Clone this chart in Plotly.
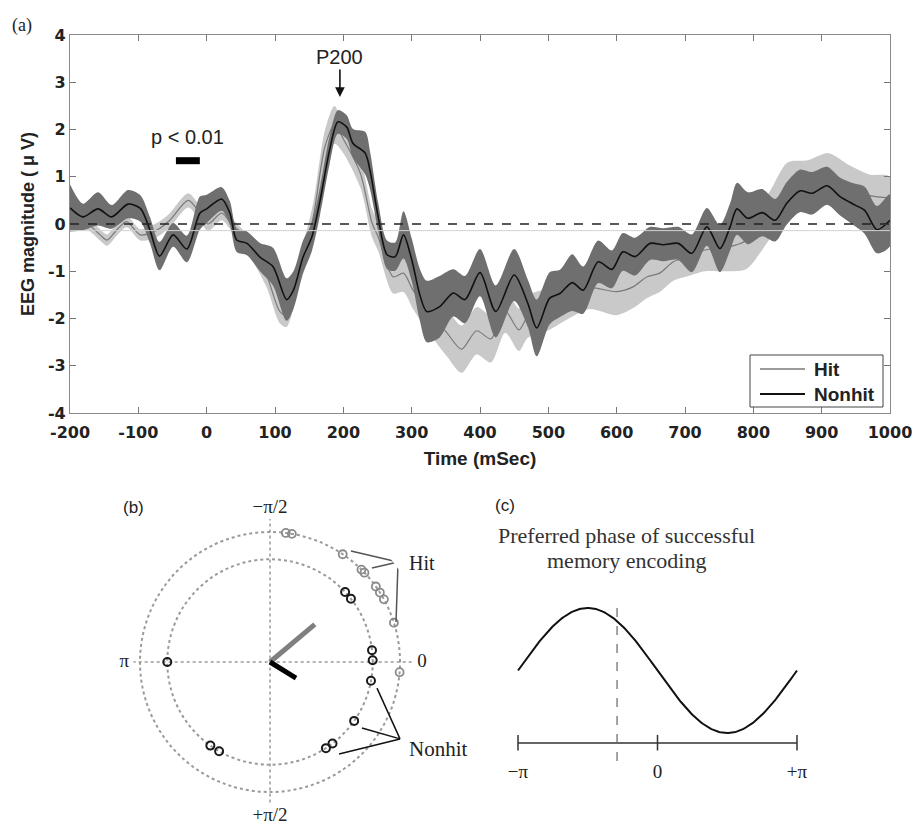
import numpy as np
import plotly.graph_objects as go

W, H = 917, 824

# ---------------- Panel (a) data ----------------
nonhit_t = [-200, -181, -159, -139, -115, -97, -83, -69, -49, -29, -10, 0, 22, 34, 44, 59, 78, 97,
            117, 127, 141, 154, 166, 180, 192, 205, 214, 232, 239, 251, 264, 276, 288, 300, 312,
            322, 341, 361, 378, 400, 423, 450, 470, 483, 502, 517, 535, 551, 573, 593, 609, 627,
            649, 668, 690, 710, 732, 751, 766, 776, 792, 813, 832, 849, 868, 886, 908, 927, 949,
            963, 981, 1000]
nonhit_mean = [0.34, 0.15, 0.32, 0.15, 0.42, 0.33, -0.13, -0.68, -0.23, -0.53, 0.23, 0.32, 0.53,
               0.23, -0.34, -0.41, -0.70, -0.90, -1.60, -1.40, -0.70, -0.27, 0.50, 1.57, 2.16,
               2.05, 1.71, 1.50, 1.14, 0.15, -0.65, -0.69, -0.23, -0.75, -1.50, -1.85, -1.75,
               -1.46, -1.60, -1.03, -1.85, -1.08, -1.68, -2.20, -1.57, -1.47, -1.24, -1.40, -0.80,
               -0.96, -0.59, -0.69, -0.41, -0.44, -0.41, -0.62, -0.06, -0.52, -0.06, 0.32, 0.12,
               0.24, 0.08, 0.44, 0.70, 0.65, 0.81, 0.58, 0.40, 0.29, -0.12, 0.08]
nonhit_sem = [0.50, 0.28, 0.35, 0.25, 0.30, 0.28, 0.28, 0.30, 0.25, 0.28, 0.35, 0.30, 0.25, 0.25,
              0.25, 0.25, 0.30, 0.40, 0.45, 0.40, 0.35, 0.30, 0.30, 0.30, 0.25, 0.25, 0.30, 0.45,
              0.40, 0.30, 0.30, 0.30, 0.50, 0.45, 0.55, 0.65, 0.65, 0.50, 0.50, 0.50, 0.55, 0.55,
              0.50, 0.60, 0.55, 0.50, 0.60, 0.50, 0.45, 0.40, 0.40, 0.40, 0.35, 0.35, 0.35, 0.40,
              0.40, 0.50, 0.50, 0.55, 0.55, 0.50, 0.45, 0.45, 0.45, 0.45, 0.40, 0.40, 0.45, 0.50,
              0.50, 0.55]

hit_t = [-200, -175, -156, -146, -130, -117, -97, -73, -54, -27, -10, 2, 22, 39, 63, 88, 107, 117,
         137, 156, 173, 187, 200, 225, 242, 251, 273, 288, 302, 327, 352, 373, 395, 416, 437, 457,
         470, 500, 530, 560, 600, 624, 644, 663, 683, 705, 729, 760, 790, 820, 850, 880, 910, 940,
         970, 1000]
hit_mean = [-0.03, 0.00, -0.23, -0.34, -0.10, 0.05, -0.23, -0.13, 0.08, 0.50, 0.23, 0.00, 0.23,
            -0.06, -0.48, -1.10, -1.85, -1.93, -0.90, 0.15, 1.63, 2.10, 1.80, 1.07, 0.02, -0.27,
            -1.12, -1.04, -1.40, -1.89, -2.31, -2.65, -2.26, -2.43, -1.85, -2.24, -1.96, -1.80,
            -1.55, -1.35, -1.43, -1.33, -1.12, -1.04, -0.80, -0.70, -0.55, -0.50, -0.35, 0.10,
            0.75, 0.85, 0.95, 0.75, 0.60, 0.55]
hit_sem = [0.12, 0.12, 0.12, 0.12, 0.12, 0.12, 0.12, 0.15, 0.15, 0.15, 0.15, 0.15, 0.15, 0.15,
           0.20, 0.25, 0.25, 0.25, 0.25, 0.30, 0.35, 0.40, 0.30, 0.30, 0.30, 0.30, 0.35, 0.40,
           0.40, 0.45, 0.50, 0.50, 0.50, 0.50, 0.45, 0.45, 0.45, 0.45, 0.45, 0.45, 0.50, 0.45,
           0.45, 0.40, 0.40, 0.40, 0.45, 0.50, 0.60, 0.50, 0.55, 0.50, 0.55, 0.50, 0.45, 0.45]

sig_window = [-45, -10]      # p < 0.01 interval (ms)
sig_level = 1.34
p200_time, p200_tip = 195, 2.69
x_ticks = list(range(-200, 1001, 100))
x_ticktext = [str(v) for v in x_ticks]
y_ticks = list(range(-4, 5))
y_ticktext = [str(v) for v in y_ticks]
legend_names = ["Hit", "Nonhit"]

# ---------------- Panel (b) data ----------------
hit_phase_deg = [277, 279.7, 304, 314.7, 316.6, 324.5, 327.7, 331.2, 342.4, 4.5]
nonhit_phase_deg = [317, 322, 353.4, 359, 10.5, 35, 52.5, 57, 119.7, 125.5, 180]
hit_ring, nonhit_ring = 1.0, 0.79
hit_mean_vec = (0.45, 320)      # (length, angle deg)
nonhit_mean_vec = (0.235, 31.6)
hit_leader = [(1.057, 306.1), (1.067, 317.3), (1.017, 342.4)]
hit_vertex = (1.25, 322)
nonhit_leader = [(0.847, 13.7), (0.871, 35.7), (0.885, 53.1)]
nonhit_vertex = (1.162, 30.6)
polar_labels = ["0", "+π/2", "π", "−π/2"]
polar_label_deg = [0, 90, 180, 270]
polar_label_r = [1.17, 1.19, 1.12, 1.18]
cross_r = [1.09, 1.08, 1.05, 1.10]   # reach of dotted cross at 0, 90, 180, 270 deg

# ---------------- Panel (c) data ----------------
wave_phase = np.linspace(-np.pi, np.pi, 241)
wave_value = -np.sin(wave_phase)
preferred_phase = -0.29 * np.pi
c_ticks = [-np.pi, 0, np.pi]
c_ticktext = ["−π", "0", "+π"]

# ---------------- helpers ----------------
def px_x(p):
    return p / W

def px_y(p):
    return 1 - p / H

fig = go.Figure()

TICKFONT = dict(family="DejaVu Sans", size=16, color="#222", weight="bold")
SERIF = "Liberation Serif"
HIT_LINE = "#7a7a7a"
NONHIT_LINE = "#111"

def band(t, m, s, color, name):
    up = [a + b for a, b in zip(m, s)]
    lo = [a - b for a, b in zip(m, s)]
    fig.add_trace(go.Scatter(x=list(t) + list(t)[::-1], y=up + lo[::-1], fill="toself",
                             fillcolor=color, line=dict(width=0, shape="spline", smoothing=0.8),
                             mode="lines", hoverinfo="skip", showlegend=False, name=name,
                             xaxis="x", yaxis="y"))

band(hit_t, hit_mean, hit_sem, "#c9c9c9", "Hit SEM")
fig.add_trace(go.Scatter(x=hit_t, y=hit_mean, mode="lines", name=legend_names[0],
                         line=dict(color=HIT_LINE, width=1.2, shape="spline", smoothing=0.8),
                         showlegend=False, xaxis="x", yaxis="y"))
band(nonhit_t, nonhit_mean, nonhit_sem, "#6f6f6f", "Nonhit SEM")
fig.add_trace(go.Scatter(x=nonhit_t, y=nonhit_mean, mode="lines", name=legend_names[1],
                         line=dict(color=NONHIT_LINE, width=1.6, shape="spline", smoothing=0.8),
                         showlegend=False, xaxis="x", yaxis="y"))
# significance bar
fig.add_trace(go.Scatter(x=sig_window, y=[sig_level, sig_level], mode="lines",
                         line=dict(color="black", width=7), showlegend=False, hoverinfo="skip",
                         xaxis="x", yaxis="y"))

# ---------------- Panel (b) traces ----------------
dot_gray = "#9a9a9a"
fig.add_trace(go.Scatterpolar(r=[cross_r[0], cross_r[2], None, cross_r[1], cross_r[3]],
                              theta=[0, 180, None, 90, 270],
                              mode="lines", line=dict(color=dot_gray, width=1.5, dash="dot"),
                              showlegend=False, hoverinfo="skip", subplot="polar"))
fig.add_trace(go.Scatterpolar(r=[0, hit_mean_vec[0]], theta=[hit_mean_vec[1]] * 2, mode="lines",
                              line=dict(color="#7f7f7f", width=5), showlegend=False,
                              subplot="polar"))
fig.add_trace(go.Scatterpolar(r=[0, nonhit_mean_vec[0]], theta=[nonhit_mean_vec[1]] * 2,
                              mode="lines", line=dict(color="#000", width=5), showlegend=False,
                              subplot="polar"))
fig.add_trace(go.Scatterpolar(r=[hit_ring] * len(hit_phase_deg), theta=hit_phase_deg,
                              mode="markers", marker=dict(symbol="circle-open", size=8,
                              color="#8a8a8a", line=dict(width=1.8)), showlegend=False,
                              subplot="polar"))
fig.add_trace(go.Scatterpolar(r=[nonhit_ring] * len(nonhit_phase_deg), theta=nonhit_phase_deg,
                              mode="markers", marker=dict(symbol="circle-open", size=8,
                              color="#1a1a1a", line=dict(width=2)), showlegend=False,
                              subplot="polar"))

def leaders(ends, vertex, color):
    rr, tt = [], []
    for r, t in ends:
        rr += [r, vertex[0], None]
        tt += [t, vertex[1], None]
    fig.add_trace(go.Scatterpolar(r=rr, theta=tt, mode="lines", line=dict(color=color, width=1.5),
                                  showlegend=False, hoverinfo="skip", subplot="polar",
                                  cliponaxis=False))

leaders(hit_leader, hit_vertex, "#555")
leaders(nonhit_leader, nonhit_vertex, "#111")
fig.add_trace(go.Scatterpolar(r=polar_label_r, theta=polar_label_deg, mode="text",
                              text=polar_labels, textposition="middle center",
                              textfont=dict(family=SERIF, size=19, color="#222"),
                              showlegend=False, hoverinfo="skip", subplot="polar",
                              cliponaxis=False))

# ---------------- Panel (c) traces ----------------
axis_level = -1.16
fig.add_trace(go.Scatter(x=wave_phase, y=wave_value, mode="lines",
                         line=dict(color="#111", width=2), showlegend=False,
                         xaxis="x3", yaxis="y3", cliponaxis=False))
fig.add_trace(go.Scatter(x=[c_ticks[0], c_ticks[-1]], y=[axis_level, axis_level], mode="lines",
                         line=dict(color="#333", width=1.5), showlegend=False,
                         xaxis="x3", yaxis="y3", cliponaxis=False))
tx, ty = [], []
for v in c_ticks:
    tx += [v, v, None]
    ty += [axis_level + 0.13, axis_level - 0.12, None]
fig.add_trace(go.Scatter(x=tx, y=ty, mode="lines", line=dict(color="#333", width=1.5),
                         showlegend=False, xaxis="x3", yaxis="y3", cliponaxis=False))
fig.add_trace(go.Scatter(x=[preferred_phase, preferred_phase], y=[1.0, -1.52], mode="lines",
                         line=dict(color="#666", width=1.2, dash="dash"), showlegend=False,
                         xaxis="x3", yaxis="y3"))
fig.add_trace(go.Scatter(x=c_ticks, y=[axis_level - 0.48] * 3, mode="text", text=c_ticktext,
                         textfont=dict(family=SERIF, size=19, color="#222"),
                         showlegend=False, xaxis="x3", yaxis="y3", cliponaxis=False))

# ---------------- layout ----------------
c_px_per_rad = 139.5 / np.pi
c_half = (815 - 657.5) / c_px_per_rad

fig.update_layout(
    width=W, height=H, autosize=False,
    margin=dict(l=0, r=0, t=0, b=0, autoexpand=False),
    paper_bgcolor="white", plot_bgcolor="white",
    font=dict(family="Liberation Sans", color="#222"),
    xaxis=dict(domain=[px_x(70), px_x(890)], range=[-200, 1000], tickvals=x_ticks,
               ticktext=x_ticktext, automargin=False, ticklabelstandoff=5,
               ticks="inside", ticklen=6, tickcolor="#777", mirror="ticks", showline=True,
               linecolor="#8a8a8a", linewidth=1.2, showgrid=False, zeroline=False,
               tickfont=TICKFONT, anchor="y",
               title=dict(text="Time (mSec)", standoff=10,
                          font=dict(family="Liberation Sans", size=19, weight="bold",
                                    color="#222"))),
    yaxis=dict(domain=[px_y(413), px_y(35)], range=[-4, 4], tickvals=y_ticks,
               ticktext=y_ticktext, automargin=False,
               ticks="inside", ticklen=6, tickcolor="#777", mirror="ticks", showline=True,
               linecolor="#8a8a8a", linewidth=1.2, showgrid=False, zeroline=False,
               tickfont=TICKFONT, anchor="x",
               title=dict(text="EEG magnitude ( μ V)", standoff=8,
                          font=dict(family="Liberation Sans", size=18, weight="bold",
                                    color="#222"))),
    xaxis3=dict(domain=[px_x(500), px_x(815)], range=[-c_half, c_half], visible=False,
                anchor="y3", automargin=False),
    yaxis3=dict(domain=[px_y(790), px_y(595)],
                range=[-(790 - 670.5) / 62.5, (670.5 - 595) / 62.5], visible=False,
                anchor="x3", automargin=False),
    polar=dict(domain=dict(x=[px_x(270 - 158.6), px_x(270 + 158.6)],
                           y=[px_y(662 + 158.6), px_y(662 - 158.6)]),
               bgcolor="white",
               radialaxis=dict(range=[0, 1.22], tickvals=[nonhit_ring, hit_ring],
                               showticklabels=False, ticks="", showline=False, showgrid=True,
                               gridcolor=dot_gray, griddash="dot", gridwidth=1.5),
               angularaxis=dict(direction="clockwise", rotation=0, showgrid=False,
                                showline=False, showticklabels=False, ticks="")),
    showlegend=False,
)

# zero line and faint baseline
fig.add_shape(type="line", x0=-200, x1=1000, y0=0, y1=0, xref="x", yref="y",
              line=dict(color="#222", width=1.5, dash="dash"))
fig.add_shape(type="line", x0=-200, x1=1000, y0=-0.14, y1=-0.14, xref="x", yref="y",
              line=dict(color="#d2d2d2", width=1))

# legend box (panel a)
fig.add_shape(type="rect", xref="paper", yref="paper", x0=px_x(750), x1=px_x(883),
              y0=px_y(407), y1=px_y(355), line=dict(color="#444", width=1), fillcolor="white")
for name, ypx, col, wdt in [(legend_names[0], 369, HIT_LINE, 1.4),
                            (legend_names[1], 394, NONHIT_LINE, 1.8)]:
    fig.add_shape(type="line", xref="paper", yref="paper", x0=px_x(760), x1=px_x(805),
                  y0=px_y(ypx), y1=px_y(ypx), line=dict(color=col, width=wdt))
    fig.add_annotation(x=px_x(812), y=px_y(ypx), xref="paper", yref="paper", text=name,
                       showarrow=False, xanchor="left", yanchor="middle",
                       font=dict(family="Liberation Sans", size=19, weight="bold", color="#222"))

# annotations
fig.add_annotation(x=p200_time, y=p200_tip, xref="x", yref="y", text="P200", showarrow=True,
                   ax=0, ay=-40, arrowhead=2, arrowsize=1.2, arrowwidth=1.6, arrowcolor="#111",
                   font=dict(family="Liberation Sans", size=20, color="#222"))
fig.add_annotation(x=(sig_window[0] + sig_window[1]) / 2, y=sig_level, xref="x", yref="y",
                   text="p < 0.01", showarrow=False, yshift=24, xanchor="center",
                   font=dict(family="Liberation Sans", size=20, color="#222"))


def paper_text(x, y, text, size, family, anchor="center", color="#222"):
    fig.add_annotation(x=px_x(x), y=px_y(y), xref="paper", yref="paper", text=text,
                       showarrow=False, xanchor=anchor, yanchor="middle",
                       font=dict(family=family, size=size, color=color))


paper_text(22, 25, "(a)", 18, SERIF)
paper_text(133, 507, "(b)", 17, "Liberation Sans")
paper_text(505, 506, "(c)", 17, "Liberation Sans")
paper_text(407, 563, "Hit", 20, SERIF, anchor="left")
paper_text(407, 749, "Nonhit", 21, SERIF, anchor="left")
paper_text(626, 535, "Preferred phase of successful", 22, SERIF, color="#333")
paper_text(626, 560, "memory encoding", 22, SERIF, color="#333")

fig.write_html("out.html", config={"displayModeBar": False},
               post_script="document.body.style.margin='0';")
